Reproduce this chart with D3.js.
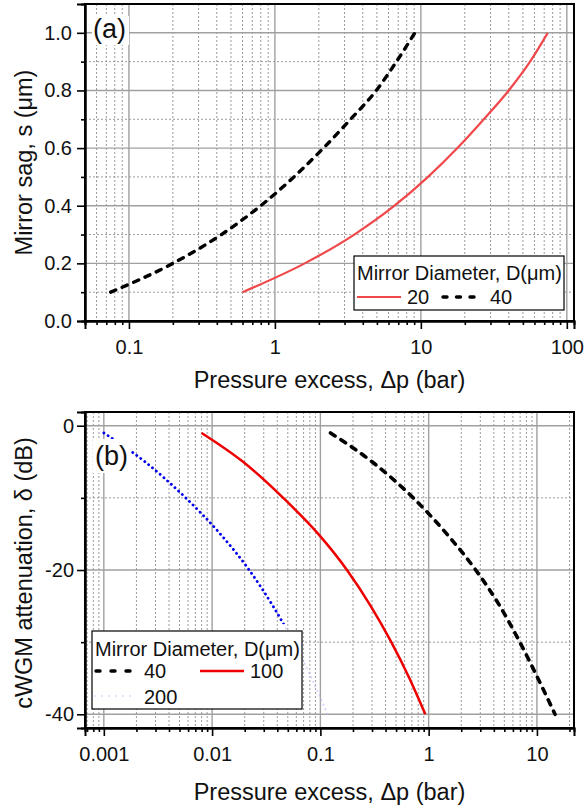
<!DOCTYPE html>
<html><head><meta charset="utf-8">
<script src="https://cdn.jsdelivr.net/npm/d3@7/dist/d3.min.js"></script>
<style>
body{margin:0;background:#fff}
text{font-family:"Liberation Sans",Arial,sans-serif;fill:#111}
</style>
</head><body>
<svg id="c" width="585" height="809"></svg>
<script>
// ---------- data ----------
// Panel (a): mirror sag s (µm) vs pressure excess (bar)
const sagLevels = [0.1, 0.2, 0.3, 0.4, 0.5, 0.6, 0.7, 0.8, 0.9, 1.0];
const dpSagD20  = [0.6, 1.6, 3.5, 6.6, 11.2, 17.8, 27, 40, 56, 74];
const dpSagD40  = [0.075, 0.2, 0.43, 0.8, 1.35, 2.15, 3.3, 4.95, 6.8, 9.1];
// Panel (b): cWGM attenuation (dB) vs pressure excess (bar)
const attLevels = [-1, -5, -10, -15, -20, -25, -30, -35, -40];
const dpAttD40  = [0.124, 0.3, 0.72, 1.47, 2.72, 4.55, 6.95, 10.2, 14.7];
const dpAttD100 = [0.008, 0.0193, 0.0453, 0.0955, 0.176, 0.292, 0.452, 0.664, 0.932];
const dpAttD200 = [0.001, 0.0024, 0.0057, 0.0119, 0.022, 0.0365, 0.0565, 0.083, 0.1165];
// ticks
const topXTicks = [0.1, 1, 10, 100];
const topXLabels = ["0.1", "1", "10", "100"];
const topYTicks = [0, 0.2, 0.4, 0.6, 0.8, 1.0];
const topYLabels = ["0.0", "0.2", "0.4", "0.6", "0.8", "1.0"];
const topYMinor = [0.1, 0.3, 0.5, 0.7, 0.9];
const botXTicks = [0.001, 0.01, 0.1, 1, 10];
const botXLabels = ["0.001", "0.01", "0.1", "1", "10"];
const botYTicks = [0, -20, -40];
const botYLabels = ["0", "-20", "-40"];
const botYMinor = [-10, -30];
const legendTitle = "Mirror Diameter, D(\u03bcm)";

const svg = d3.select("#c");
const L = 85, R = 574;

function panel(o) {
  const g = svg.append("g");
  const x = d3.scaleLog().domain(o.xDom).range([L, R]);
  const y = d3.scaleLinear().domain(o.yDom).range([o.bottom, o.top]);
  const xMinor = x.ticks().filter(d => !o.xTicks.some(t => Math.abs(t - d) / t < 1e-6));

  const grid = g.append("g");
  grid.selectAll(".vm").data(xMinor).join("line")
    .attr("x1", d => x(d)).attr("x2", d => x(d)).attr("y1", o.top).attr("y2", o.bottom)
    .attr("stroke", "#9a9a9a").attr("stroke-width", 1).attr("stroke-dasharray", "2,2");
  grid.selectAll(".hm").data(o.yMinor).join("line")
    .attr("x1", L).attr("x2", R).attr("y1", d => y(d)).attr("y2", d => y(d))
    .attr("stroke", "#9a9a9a").attr("stroke-width", 1).attr("stroke-dasharray", "2,2");
  grid.selectAll(".vM").data(o.xTicks).join("line")
    .attr("x1", d => x(d)).attr("x2", d => x(d)).attr("y1", o.top).attr("y2", o.bottom)
    .attr("stroke", "#a0a0a0").attr("stroke-width", 1.4);
  grid.selectAll(".hM").data(o.yTicks).join("line")
    .attr("x1", L).attr("x2", R).attr("y1", d => y(d)).attr("y2", d => y(d))
    .attr("stroke", "#a0a0a0").attr("stroke-width", 1.4);

  const lines = g.append("g");
  return {g, x, y, lines, xMinor, finish: function () {
    g.append("rect").attr("x", L).attr("y", o.top).attr("width", R - L).attr("height", o.bottom - o.top)
      .attr("fill", "none").attr("stroke", "#000").attr("stroke-width", 2);
    const ax = g.append("g").attr("transform", `translate(0,${o.bottom})`)
      .call(d3.axisBottom(x).tickValues(o.xTicks).tickSize(8).tickPadding(11)
        .tickFormat((d, i) => o.xLabels[i]));
    const axm = g.append("g").attr("transform", `translate(0,${o.bottom})`)
      .call(d3.axisBottom(x).tickValues(xMinor).tickSize(4).tickFormat(""));
    const ay = g.append("g").attr("transform", `translate(${L},0)`)
      .call(d3.axisLeft(y).tickValues(o.yTicks).tickSize(8).tickPadding(o.yPad)
        .tickFormat((d, i) => o.yLabels[i]));
    const aym = g.append("g").attr("transform", `translate(${L},0)`)
      .call(d3.axisLeft(y).tickValues(o.yMinor).tickSize(4).tickFormat(""));
    [ax, axm, ay, aym].forEach(a => {
      a.select(".domain").attr("stroke", "#000").attr("stroke-width", 2);
      a.selectAll(".tick line").attr("stroke", "#000").attr("stroke-width", 1.6);
      a.selectAll("text").attr("font-size", 20).attr("fill", "#111")
        .attr("font-family", '"Liberation Sans",Arial,sans-serif');
    });
  }};
}

const lineGen = (x, y) => d3.line().x(d => x(d[0])).y(d => y(d[1])).curve(d3.curveMonotoneX);

// ---------- panel (a) ----------
const A = panel({xDom: [0.05, 112], yDom: [0, 1.1], top: 4, bottom: 321,
  xTicks: topXTicks, xLabels: topXLabels, yTicks: topYTicks, yLabels: topYLabels,
  yMinor: topYMinor, yPad: 5});
const la = lineGen(A.x, A.y);
A.lines.append("path").datum(dpSagD20.map((p, i) => [p, sagLevels[i]]))
  .attr("d", la).attr("fill", "none").attr("stroke", "#f0484a").attr("stroke-width", 2.2);
A.lines.append("path").datum(dpSagD40.map((p, i) => [p, sagLevels[i]]))
  .attr("d", la).attr("fill", "none").attr("stroke", "#000").attr("stroke-width", 3.4)
  .attr("stroke-dasharray", "5.5,7").attr("stroke-linecap", "round");
A.finish();

const labA = svg.append("g");
labA.append("rect").attr("x", 92).attr("y", 16).attr("width", 37).attr("height", 29).attr("fill", "#fff");
labA.append("text").attr("x", 93).attr("y", 38).attr("font-size", 27).text("(a)");

const lgA = svg.append("g");
lgA.append("rect").attr("x", 354).attr("y", 256).attr("width", 210).attr("height", 54)
  .attr("fill", "#fff").attr("stroke", "#000").attr("stroke-width", 1.2);
lgA.append("text").attr("x", 357).attr("y", 280).attr("font-size", 20).text(legendTitle);
lgA.append("line").attr("x1", 357).attr("x2", 401).attr("y1", 297).attr("y2", 297)
  .attr("stroke", "#f0484a").attr("stroke-width", 2.2);
lgA.append("text").attr("x", 407).attr("y", 304).attr("font-size", 20).text("20");
lgA.append("line").attr("x1", 443).attr("x2", 477).attr("y1", 297).attr("y2", 297)
  .attr("stroke", "#000").attr("stroke-width", 3.4).attr("stroke-dasharray", "4,9.5")
  .attr("stroke-linecap", "round");
lgA.append("text").attr("x", 490).attr("y", 304).attr("font-size", 20).text("40");

svg.append("text").attr("x", 329.5).attr("y", 388).attr("text-anchor", "middle")
  .attr("font-size", 23.5).text("Pressure excess, \u0394p (bar)");
svg.append("text").attr("transform", "translate(32,162.5) rotate(-90)").attr("text-anchor", "middle")
  .attr("font-size", 23.5).text("Mirror sag, s (\u03bcm)");

// ---------- panel (b) ----------
const B = panel({xDom: [0.00067, 22], yDom: [-41.9, 1.9], top: 412, bottom: 728,
  xTicks: botXTicks, xLabels: botXLabels, yTicks: botYTicks, yLabels: botYLabels,
  yMinor: botYMinor, yPad: 3});
const lb = lineGen(B.x, B.y);
svg.append("defs").append("clipPath").attr("id", "blueClip").append("rect")
  .attr("x", L).attr("y", 412).attr("width", R - L).attr("height", B.y(-27.5) - 412);
const d200 = dpAttD200.map((p, i) => [p, attLevels[i]]);
B.lines.append("path").datum(d200).attr("d", lb).attr("fill", "none")
  .attr("stroke", "#b8b8ff").attr("stroke-width", 2).attr("stroke-dasharray", "0.1,4.9")
  .attr("stroke-linecap", "round").attr("opacity", 0.6);
B.lines.append("path").datum(d200).attr("d", lb).attr("fill", "none")
  .attr("clip-path", "url(#blueClip)")
  .attr("stroke", "#0000ee").attr("stroke-width", 2.8).attr("stroke-dasharray", "0.1,4.9")
  .attr("stroke-linecap", "round");
B.lines.append("path").datum(dpAttD100.map((p, i) => [p, attLevels[i]]))
  .attr("d", lb).attr("fill", "none").attr("stroke", "#ee0000").attr("stroke-width", 2.5);
B.lines.append("path").datum(dpAttD40.map((p, i) => [p, attLevels[i]]))
  .attr("d", lb).attr("fill", "none").attr("stroke", "#000").attr("stroke-width", 3.6)
  .attr("stroke-dasharray", "5.5,7").attr("stroke-linecap", "round");
B.finish();

const labB = svg.append("g");
labB.append("rect").attr("x", 93).attr("y", 439).attr("width", 37).attr("height", 34).attr("fill", "#fff");
labB.append("text").attr("x", 95).attr("y", 465).attr("font-size", 27).text("(b)");

const lgB = svg.append("g");
lgB.append("rect").attr("x", 92).attr("y", 631).attr("width", 210).attr("height", 78)
  .attr("fill", "#fff").attr("stroke", "#000").attr("stroke-width", 1.2);
lgB.append("text").attr("x", 95).attr("y", 656).attr("font-size", 20).text(legendTitle);
lgB.append("line").attr("x1", 96).attr("x2", 131).attr("y1", 671).attr("y2", 671)
  .attr("stroke", "#000").attr("stroke-width", 3.4).attr("stroke-dasharray", "4,11")
  .attr("stroke-linecap", "round");
lgB.append("text").attr("x", 144).attr("y", 678).attr("font-size", 20).text("40");
lgB.append("line").attr("x1", 200).attr("x2", 244).attr("y1", 671).attr("y2", 671)
  .attr("stroke", "#ee0000").attr("stroke-width", 2.5);
lgB.append("text").attr("x", 250).attr("y", 678).attr("font-size", 20).text("100");
lgB.append("line").attr("x1", 95).attr("x2", 137).attr("y1", 696).attr("y2", 696)
  .attr("stroke", "#c4c4ff").attr("stroke-width", 1.6).attr("stroke-dasharray", "0.1,6.9")
  .attr("stroke-linecap", "round");
lgB.append("text").attr("x", 144).attr("y", 704).attr("font-size", 20).text("200");

svg.append("text").attr("x", 329.5).attr("y", 800).attr("text-anchor", "middle")
  .attr("font-size", 23.5).text("Pressure excess, \u0394p (bar)");
svg.append("text").attr("transform", "translate(32,573) rotate(-90)").attr("text-anchor", "middle")
  .attr("font-size", 23.5).text("cWGM attenuation, \u03b4 (dB)");
</script>
</body></html>
